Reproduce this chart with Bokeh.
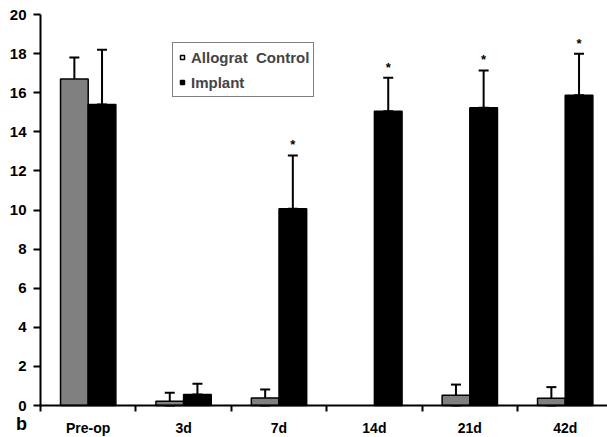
from bokeh.plotting import figure
from bokeh.models import (Range1d, FixedTicker, ColumnDataSource, Whisker, TeeHead,
                          Legend, LegendItem)
from bokeh.core.properties import value
from bokeh.embed import file_html
from bokeh.resources import INLINE

categories = ["Pre-op", "3d", "7d", "14d", "21d", "42d"]
allograft = [16.7, 0.22, 0.39, 0.0, 0.53, 0.37]
allograft_err = [1.1, 0.43, 0.43, 0.0, 0.54, 0.57]
implant = [15.4, 0.56, 10.06, 15.05, 15.23, 15.87]
implant_err = [2.8, 0.55, 2.73, 1.71, 1.91, 2.12]
significant = ["7d", "14d", "21d", "42d"]
y_ticks = [0, 2, 4, 6, 8, 10, 12, 14, 16, 18, 20]
panel_letter = "b"

FONT = "Liberation Sans"
n = len(categories)
centers = [i + 0.5 for i in range(n)]
bounds = [i for i in range(n + 1)]
bw = 0.29

W, H = 607, 437
# axes placed at data 0 inside a frame covering the canvas
X0, X1 = -40 / 95.4, (W - 40) / 95.4
Y0, Y1 = -(H - 405) / 19.55, 20 + 14 / 19.55

p = figure(width=W, height=H, output_backend="svg", toolbar_location=None, title=None,
           x_range=Range1d(X0, X1), y_range=Range1d(Y0, Y1), min_border=0)
p.outline_line_color = None
p.xgrid.visible = False
p.ygrid.visible = False
p.background_fill_color = "white"
p.border_fill_color = "white"

xa = [c - bw / 2 for c in centers]
xb = [c + bw / 2 for c in centers]

src_a = ColumnDataSource(dict(x=[x for x, v in zip(xa, allograft) if v > 0],
                              top=[v for v in allograft if v > 0]))
src_b = ColumnDataSource(dict(x=xb, top=implant))
p.vbar(x="x", top="top", width=bw, bottom=0, source=src_a,
       fill_color="#808080", line_color="black", line_width=1.5)
p.vbar(x="x", top="top", width=bw, bottom=0, source=src_b,
       fill_color="black", line_color="black", line_width=1.5)

wa = ColumnDataSource(dict(
    x=[x for x, v in zip(xa, allograft) if v > 0],
    upper=[v + e for v, e in zip(allograft, allograft_err) if v > 0],
    lower=[max(v - e, 0) for v, e in zip(allograft, allograft_err) if v > 0]))
wb = ColumnDataSource(dict(
    x=xb,
    upper=[v + e for v, e in zip(implant, implant_err)],
    lower=[v for v in implant]))
for s in (wa, wb):
    w = Whisker(base="x", upper="upper", lower="lower", source=s,
                line_color="black", line_width=2,
                upper_head=TeeHead(size=10, line_width=2, line_color="black"),
                lower_head=TeeHead(size=10, line_width=2, line_color="black"))
    p.add_layout(w)

star_x, star_y = [], []
for c, v, e, x in zip(categories, implant, implant_err, xb):
    if c in significant:
        star_x.append(x)
        star_y.append(v + e + 0.55)
p.text(x=star_x, y=star_y, text=["*"] * len(star_x), text_align="center",
       text_baseline="middle", text_font=value(FONT), text_font_size="13px",
       text_font_style="bold", text_color="black")

p.text(x=[-0.2], y=[-0.95], text=[panel_letter], text_align="center",
       text_baseline="middle", text_font=value(FONT), text_font_size="18px",
       text_font_style="bold", text_color="black")

# axes
p.yaxis.fixed_location = 0
p.yaxis.bounds = (0, 20)
p.yaxis.ticker = FixedTicker(ticks=y_ticks)
p.yaxis.axis_line_width = 2
p.yaxis.major_tick_line_width = 2
p.yaxis.major_tick_out = 7
p.yaxis.major_tick_in = 0
p.yaxis.minor_tick_out = 0
p.yaxis.minor_tick_in = 0
p.yaxis.major_label_standoff = 7
p.yaxis.major_label_text_font = FONT
p.yaxis.major_label_text_font_size = "15px"
p.yaxis.major_label_text_font_style = "bold"
p.yaxis.major_label_text_color = "black"

p.xaxis.fixed_location = 0
p.xaxis.bounds = (0, X1)
p.xaxis.ticker = FixedTicker(ticks=centers, minor_ticks=bounds)
p.xaxis.major_label_overrides = {c: lab for c, lab in zip(centers, categories)}
p.xaxis.axis_line_width = 2
p.xaxis.major_tick_out = 0
p.xaxis.major_tick_in = 0
p.xaxis.minor_tick_out = 6
p.xaxis.minor_tick_in = 0
p.xaxis.minor_tick_line_width = 2
p.xaxis.major_label_standoff = 8
p.xaxis.major_label_text_font = FONT
p.xaxis.major_label_text_font_size = "14px"
p.xaxis.major_label_text_font_style = "bold"
p.xaxis.major_label_text_color = "black"

# legend (marker renderers placed outside the visible range)
r1 = p.scatter(x=[-10], y=[-10], marker="square", size=8, fill_color="white",
               line_color="black", line_width=1.5)
r2 = p.scatter(x=[-10], y=[-10], marker="square", size=8, fill_color="black",
               line_color="black", line_width=1.5)
legend = Legend(items=[LegendItem(label="Allograt  Control", renderers=[r1]),
                       LegendItem(label="Implant", renderers=[r2])],
                location=(172, H - 97), margin=0, padding=4, spacing=5,
                glyph_width=10, glyph_height=20, label_height=20, label_standoff=4,
                label_text_font=FONT, label_text_font_size="15px",
                label_text_font_style="bold",
                border_line_color="black", border_line_width=1.5,
                background_fill_alpha=1.0)
p.add_layout(legend, "center")

open("out.html", "w").write(file_html(p, INLINE))
